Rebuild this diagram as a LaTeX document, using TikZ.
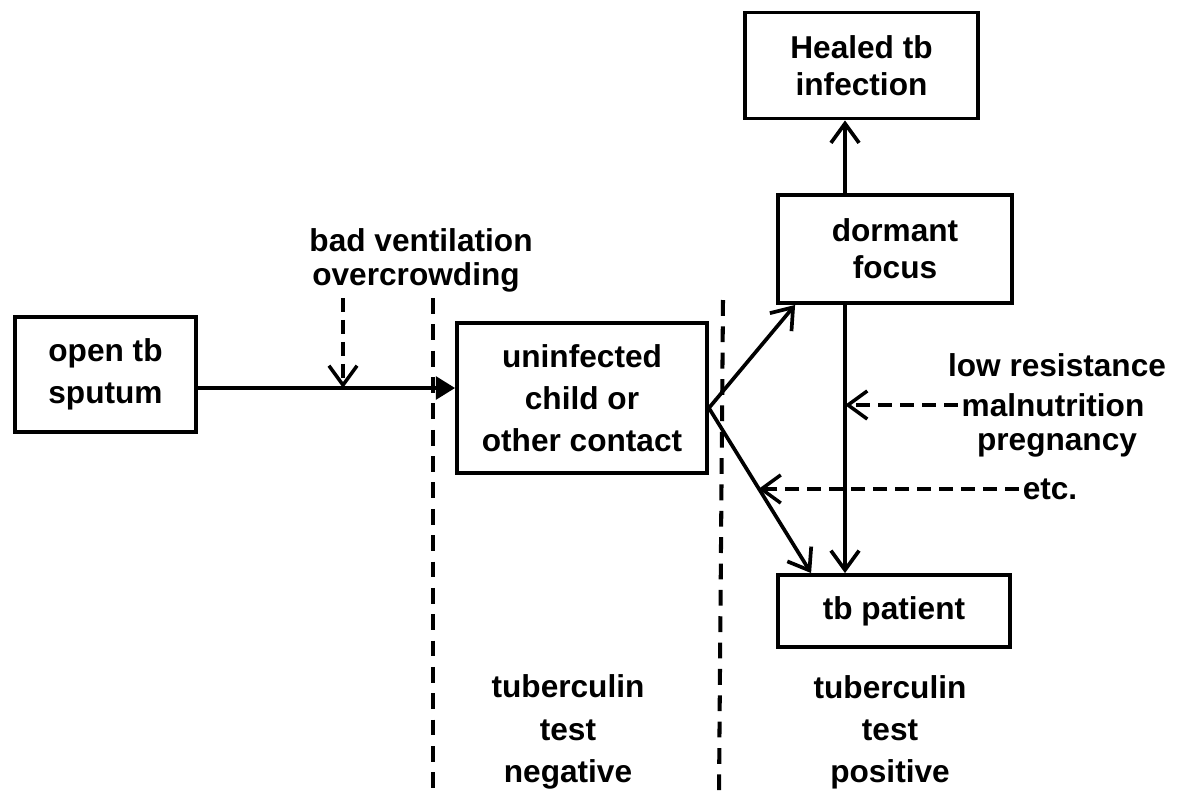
\documentclass[tikz,border=0pt]{standalone}
\usepackage{fontspec}
\setmainfont{Liberation Sans}
\usetikzlibrary{arrows.meta, positioning, calc}

\begin{document}
\begin{tikzpicture}[
            font=\fontsize{18}{24}\selectfont\bfseries,
            x=0.02cm, y=-0.02cm,
            >={Straight Barb[length=11pt, width=16pt]},
            stage/.style   ={draw, line width=2.2pt, align=center, inner sep=2pt},
            flow/.style    ={->, line width=2.1pt},
            cause/.style   ={->, line width=2pt, dash pattern=on 8pt off 4.5pt},
            divider/.style ={line width=2.3pt, dash pattern=on 9pt off 6pt},
            lbl/.style     ={align=center, inner sep=2pt}
        ]
        \useasboundingbox (0,0) rectangle (1177,792);

        %% ---- boxes ------------------------------------------------------------
        \node[stage, minimum width=3.62cm, minimum height=2.3cm]  (open)    at (105.5,374.5) {open tb\\sputum};
        \node[stage, minimum width=5.0cm,  minimum height=3.0cm]  (uninf)   at (582,398)     {uninfected\\child or\\other contact};
        \node[stage, minimum width=4.68cm, minimum height=2.16cm,
              font=\fontsize{18}{21}\selectfont\bfseries]          (dormant) at (895,249)     {dormant\\focus};
        \node[stage, minimum width=4.66cm, minimum height=2.12cm,
              font=\fontsize{18}{21}\selectfont\bfseries]          (healed)  at (861.5,65.5)  {Healed tb\\infection};
        \node[stage, minimum width=4.64cm, minimum height=1.44cm] (patient) at (894,611)     {tb patient};

        %% ---- side texts -------------------------------------------------------
        \node[lbl] (ventA) at (421,240) {bad ventilation};
        \node[lbl] (ventB) at (416,277) {overcrowding};

        \node[lbl] (lowres) at (1057,365) {low resistance};
        \node[lbl] (maln)   at (1053,405) {malnutrition};
        \node[lbl] (preg)   at (1057,445) {pregnancy};
        \node[lbl] (etcn)   at (1050,489) {etc.};

        \node[lbl] (neg) at (568,732) {tuberculin\\test\\negative};
        \node[lbl] (pos) at (890,732) {tuberculin\\test\\positive};

        %% ---- dividers between the stages ---------------------------------------
        \coordinate (d1top) at (433,298);
        \coordinate (d1bot) at (433,792);
        \coordinate (d2top) at (723,300);
        \coordinate (d2bot) at (719,792);
        \draw[divider] (d1top) -- (d1bot);
        \draw[divider] (d2top) -- (d2bot);

        %% ---- main flow ----------------------------------------------------------
        \draw[line width=2.1pt, -{Triangle[length=11pt, width=13pt]}]
            ([yshift=-0.27cm]open.east) coordinate (feed) -- (feed -| uninf.west);

        \coordinate (ventTop) at (343,298);
        \draw[cause] (ventTop) -- (ventTop |- feed);

        \draw[flow] ([yshift=-0.2cm]uninf.east) -- ([xshift=0.38cm]dormant.south west);
        \draw[flow] ([yshift=-0.2cm]uninf.east) -- coordinate[pos=0.485] (hit) ([xshift=0.7cm]patient.north west);

        % the stem through the right column
        \coordinate (stem) at (845,0);
        \draw[flow] (dormant.north -| stem) -- (healed.south -| stem);
        \draw[flow] (dormant.south -| stem) -- (patient.north -| stem);

        % contributing factors
        \draw[cause] (maln.west) -- (maln.west -| stem);
        \draw[cause] (etcn.west) -- (etcn.west -| hit);
    \end{tikzpicture}
\end{document}
